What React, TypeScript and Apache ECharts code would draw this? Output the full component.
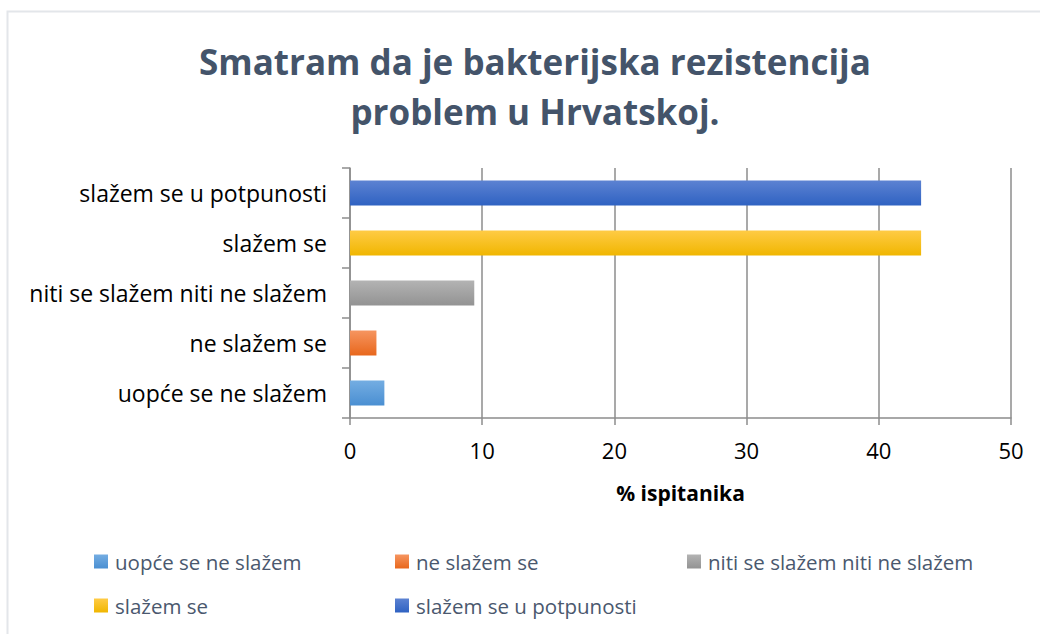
import React, { useEffect, useRef } from "react";
import * as echarts from "echarts";

const categories = [
  "uopće se ne slažem",
  "ne slažem se",
  "niti se slažem niti ne slažem",
  "slažem se",
  "slažem se u potpunosti",
];
const values = [2.6, 2.0, 9.4, 43.2, 43.2];
const xTicks = [0, 10, 20, 30, 40, 50];
const titleLines = ["Smatram da je bakterijska rezistencija", "problem u Hrvatskoj."];
const axisName = "% ispitanika";

const gradients = [
  ["#74ade2", "#4a8fd2"],
  ["#f69560", "#e8671c"],
  ["#b3b3b3", "#939393"],
  ["#ffcb45", "#f0b600"],
  ["#5c82d2", "#2f62c2"],
];

const legendPos = [
  { left: 94, top: 551 },
  { left: 395, top: 551 },
  { left: 687, top: 551 },
  { left: 94, top: 595 },
  { left: 395, top: 595 },
];

export default function App() {
  const ref = useRef<HTMLDivElement>(null);
  useEffect(() => {
    document.body.style.margin = "0";
    const chart = echarts.init(ref.current!, undefined, { renderer: "svg" });
    const font = "'Open Sans', sans-serif";
    const series = categories.map((name, i) => ({
      name,
      type: "bar",
      stack: "all",
      barWidth: "50%",
      data: categories.map((_, j) => (j === i ? values[i] : "-")),
      itemStyle: {
        color: new echarts.graphic.LinearGradient(0, 0, 0, 1, [
          { offset: 0, color: gradients[i][0] },
          { offset: 1, color: gradients[i][1] },
        ]),
      },
    }));
    chart.setOption({
      animation: false,
      textStyle: { fontFamily: font },
      title: {
        text: titleLines.join("\n"),
        left: 530,
        top: 31,
        textAlign: "center",
        textStyle: {
          fontFamily: font,
          fontWeight: "bold",
          fontSize: 35,
          lineHeight: 50,
          color: "#44546a",
        },
      },
      graphic: [
        {
          type: "rect",
          shape: { x: 7.5, y: 11.5, width: 1100, height: 700 },
          style: { fill: "none", stroke: "#e3e6ea", lineWidth: 2 },
          silent: true,
        },
      ],
      legend: categories.map((name, i) => ({
        data: [name],
        left: legendPos[i].left,
        top: legendPos[i].top,
        icon: "rect",
        itemWidth: 14,
        itemHeight: 14,
        padding: 0,
        selectedMode: false,
        textStyle: { fontFamily: font, fontSize: 20.5, color: "#4a586e", padding: [0, 0, 0, 2] },
      })),
      grid: { left: 350, right: 29, top: 168, height: 250, containLabel: false },
      xAxis: {
        type: "value",
        min: 0,
        max: 50,
        interval: 10,
        name: axisName,
        nameLocation: "middle",
        nameGap: 64,
        nameTextStyle: { fontFamily: font, fontWeight: "bold", fontSize: 21, color: "#000" },
        axisLine: { show: true, lineStyle: { color: "#8c8c8c", width: 1.5 } },
        axisTick: { show: true, length: 7, lineStyle: { color: "#8c8c8c", width: 1.5 } },
        axisLabel: {
          fontFamily: font,
          fontSize: 22,
          color: "#000",
          margin: 21,
          formatter: (v: number) => (xTicks.includes(v) ? String(v) : ""),
        },
        splitLine: { show: true, lineStyle: { color: "#8c8c8c", width: 1.5 } },
      },
      yAxis: {
        type: "category",
        data: categories,
        axisLine: { show: true, lineStyle: { color: "#8c8c8c", width: 1.5 } },
        axisTick: { show: true, length: 8, lineStyle: { color: "#8c8c8c", width: 1.5 } },
        axisLabel: { fontFamily: font, fontSize: 23, color: "#000", margin: 23 },
      },
      series,
    });
    return () => chart.dispose();
  }, []);
  return <div ref={ref} style={{ width: 1040, height: 634 }} />;
}
